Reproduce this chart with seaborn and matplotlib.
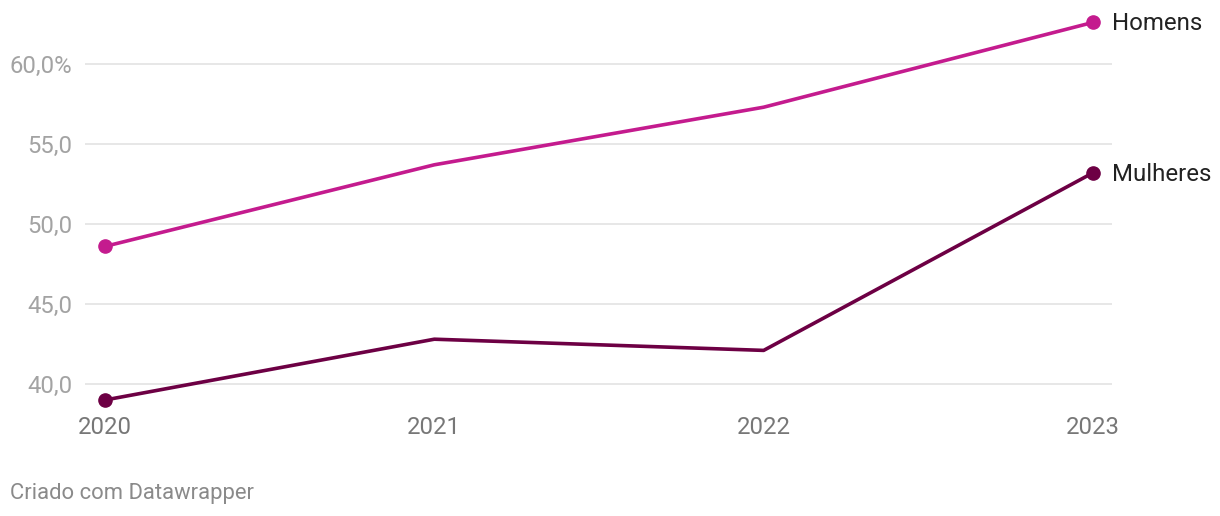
import matplotlib
matplotlib.use("Agg")
import matplotlib.pyplot as plt
import seaborn as sns
import pandas as pd

years = [2020, 2021, 2022, 2023]
homens = [48.6, 53.7, 57.3, 62.6]
mulheres = [39.0, 42.8, 42.1, 53.2]
series_names = ["Homens", "Mulheres"]
colors = {"Homens": "#c41b8e", "Mulheres": "#6d0044"}
y_ticks = [40, 45, 50, 55, 60]
y_tick_labels = ["40,0", "45,0", "50,0", "55,0", "60,0%"]
footer = "Criado com Datawrapper"

sns.set_theme(style="white")
plt.rcParams["font.family"] = ["Roboto", "DejaVu Sans"]

df = pd.DataFrame({
    "ano": years * 2,
    "valor": homens + mulheres,
    "serie": ["Homens"] * len(years) + ["Mulheres"] * len(years),
})

fig = plt.figure(figsize=(12.2, 5.16), dpi=100)
ax = fig.add_axes([85 / 1220, (516 - 410) / 516, (1112 - 85) / 1220, 400 / 516])

for y in y_ticks:
    ax.axhline(y, color="#e3e3e3", lw=1.2, zorder=0)

sns.lineplot(data=df, x="ano", y="valor", hue="serie", palette=colors,
             linewidth=2.6, legend=False, ax=ax, zorder=3)

for name, vals in zip(series_names, [homens, mulheres]):
    ax.plot([years[0], years[-1]], [vals[0], vals[-1]], "o", ms=9.5,
            color=colors[name], zorder=4, clip_on=False)
    ax.annotate(name, (years[-1], vals[-1]), xytext=(13.5, -1),
                textcoords="offset points", va="center", ha="left",
                fontsize=17.3, color="#222222")

ax.set_xlim(2019.9393, 2023.0577)
ax.set_ylim(38.375, 63.375)
ax.set_yticks(y_ticks)
ax.set_yticklabels(y_tick_labels)
ax.set_xticks(years)
ax.set_xticklabels([str(y) for y in years])
ax.tick_params(axis="y", length=0, pad=9, labelsize=17.2, labelcolor="#a3a3a3")
ax.tick_params(axis="x", length=0, pad=4, labelsize=17.2, labelcolor="#777777")
for lab in ax.get_yticklabels():
    lab.set_horizontalalignment("right")
ax.set_xlabel("")
ax.set_ylabel("")
sns.despine(ax=ax, left=True, bottom=True, top=True, right=True)
ax.grid(False)

fig.text(10 / 1220, 1 - 494 / 516, footer, fontsize=15.8, color="#8a8a8a",
         ha="left", va="center")

fig.savefig("out.png", dpi=100)
